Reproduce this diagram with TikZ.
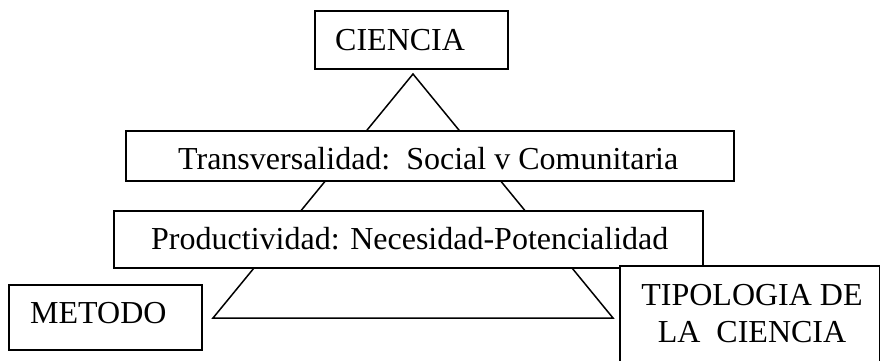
\documentclass[tikz,border=0pt]{standalone}
\usepackage{fontspec}
\setmainfont{Liberation Serif}
\begin{document}
\begin{tikzpicture}[x=1pt,y=-1pt,
  box/.style={draw=black, line width=1.9pt, fill=white, inner sep=0pt, anchor=north west},
  txt/.style={font=\fontsize{32}{37}\selectfont, inner sep=0pt},
  tri/.style={draw=black, line width=1.5pt, line join=miter}]
\useasboundingbox (0,0) rectangle (880,360);
\clip (0,0) rectangle (880,360);
% big triangle behind the boxes
\coordinate (apex) at (413,74);
\coordinate (bl) at (213,318);
\coordinate (br) at (613,318);
\draw[tri] (apex) -- (bl) -- (br) -- cycle;
% boxes
\node[box, minimum width=193pt, minimum height=58pt] (ciencia) at (314,10) {};
\node[box, minimum width=608pt, minimum height=50pt] (trans) at (125,130) {};
\node[box, minimum width=589pt, minimum height=57pt] (prod) at (113,210) {};
\node[box, minimum width=193pt, minimum height=65pt] (metodo) at (8,284) {};
\node[box, minimum width=260pt, minimum height=120pt] (tipo) at (619,265) {};
% texts
\node[txt, anchor=base west] (cienciaT) at (335,50) {CIENCIA};
\node[txt, anchor=base west] (transT) at (178,169) {Transversalidad:\ \ Social v Comunitaria};
\node[txt, anchor=base west] (prodT) at (151,249) {Productividad: Necesidad-Potencialidad};
\node[txt, anchor=base west] (metodoT) at (30,323) {METODO};
\node[txt, anchor=base] (tipoA) at (752,305) {TIPOLOGIA DE};
\node[txt, anchor=base] (tipoB) at (752,342) {LA\ \ CIENCIA};
\end{tikzpicture}
\end{document}
